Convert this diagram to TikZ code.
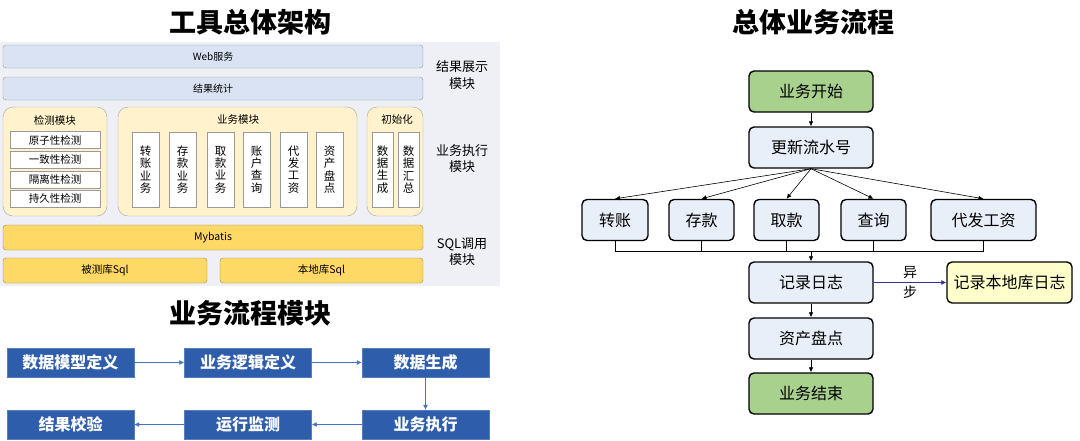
\documentclass[tikz,border=0pt]{standalone}
\usepackage{fontspec}
\setmainfont{Noto Sans CJK SC}
\usetikzlibrary{arrows.meta}

\definecolor{panelbg}{HTML}{EEF0F6}
\definecolor{barblue}{HTML}{DAE3F3}
\definecolor{modyellow}{HTML}{FFF2CC}
\definecolor{sqlyellow}{HTML}{FFD966}
\definecolor{stepblue}{HTML}{2E5DAC}
\definecolor{linkblue}{HTML}{4472C4}
\definecolor{startgreen}{HTML}{A9D18E}
\definecolor{flowblue}{HTML}{E9EFF8}
\definecolor{notebox}{HTML}{FFFFCC}
\definecolor{asyncnavy}{HTML}{2E3192}

\begin{document}
\begin{tikzpicture}[x=1pt,y=-1pt,
  bar/.style={draw=gray!80,fill=barblue,rounded corners=3pt,inner sep=0pt,
    minimum width=420pt,minimum height=23pt,font=\fontsize{10}{12}\selectfont},
  module/.style={draw=gray!70,fill=modyellow,rounded corners=10pt,inner sep=0pt,
    minimum height=109pt},
  checkbox/.style={draw=gray!80,fill=white,inner sep=0pt,minimum width=90pt,
    minimum height=17pt,font=\fontsize{10.5}{12}\selectfont},
  vbox/.style={draw=gray!80,fill=white,inner sep=0pt,minimum height=75pt,
    align=center,font=\fontsize{11.5}{12.3}\selectfont},
  sqlbar/.style={draw=gray!70!orange,fill=sqlyellow,rounded corners=3pt,
    inner sep=0pt,minimum height=25pt,font=\fontsize{10.5}{12}\selectfont},
  sidelabel/.style={align=center,font=\fontsize{13}{16.5}\selectfont},
  title/.style={font=\fontsize{27}{30}\selectfont\bfseries},
  stepbox/.style={fill=stepblue,draw=stepblue!80!white,text=white,inner sep=0pt,
    minimum width=127pt,minimum height=29pt,font=\fontsize{16}{18}\selectfont\bfseries},
  steplink/.style={linkblue,line width=0.8pt,-{Latex[length=5pt,width=5pt]}},
  flow/.style={draw=black,line width=1.4pt,fill=flowblue,rounded corners=5pt,
    inner sep=0pt,minimum height=41pt,font=\fontsize{16}{18}\selectfont},
  flowlink/.style={black,line width=0.6pt,-{Latex[length=5pt,width=4.5pt]}}]

\useasboundingbox (0,0) rectangle (1080,440);

% tool architecture
\fill[panelbg] (0,42) rectangle (500,286);
\node[title] (archtitle) at (250,22) {工具总体架构};

\node[bar] (web) at (213,56.5) {Web服务};
\node[bar] (stat) at (213,88.5) {结果统计};

\node[module,minimum width=104pt] (chk) at (55,161.5) {};
\node[module,minimum width=239pt] (biz) at (237.5,161.5) {};
\node[module,minimum width=56pt] (init) at (395,161.5) {};
\node[font=\fontsize{10.5}{12}\selectfont] (chktitle) at (55,120) {检测模块};
\node[font=\fontsize{10.5}{12}\selectfont] (biztitle) at (238,120) {业务模块};
\node[font=\fontsize{10.5}{12}\selectfont] (inittitle) at (397,120) {初始化};

\foreach \t/\y/\n in {原子性检测/140/c1,一致性检测/159.5/c2,隔离性检测/179.5/c3,持久性检测/198.5/c4}
  \node[checkbox] (\n) at (55,\y) {\t};

\foreach \t/\x/\n in {转\\账\\业\\务/145.5/b1,存\\款\\业\\务/182.5/b2,取\\款\\业\\务/220.5/b3,
    账\\户\\查\\询/256.5/b4,代\\发\\工\\资/293.5/b5,资\\产\\盘\\点/329.5/b6}
  \node[vbox,minimum width=27pt] (\n) at (\x,169.5) {\t};

\node[vbox,minimum width=21pt] (i1) at (382.5,169.5) {数\\据\\生\\成};
\node[vbox,minimum width=21pt] (i2) at (408.5,169.5) {数\\据\\汇\\总};

\node[sqlbar,minimum width=420pt] (mybatis) at (213,237.5) {Mybatis};
\node[sqlbar,minimum width=204pt] (testsql) at (105,270.5) {被测库Sql};
\node[sqlbar,minimum width=203pt] (localsql) at (321.5,270.5) {本地库Sql};

\node[sidelabel] (showlbl) at (462,75) {结果展示\\模块};
\node[sidelabel] (execlbl) at (462,158.5) {业务执行\\模块};
\node[sidelabel] (sqllbl) at (462,251.5) {SQL调用\\模块};

% process module
\node[title] (proctitle) at (250,313) {业务流程模块};

\node[stepbox] (model) at (70.5,362.5) {数据模型定义};
\node[stepbox] (logic) at (248,362.5) {业务逻辑定义};
\node[stepbox] (gen) at (425.5,362.5) {数据生成};
\node[stepbox] (run) at (425.5,424.5) {业务执行};
\node[stepbox] (watch) at (248,424.5) {运行监测};
\node[stepbox] (verify) at (70.5,424.5) {结果校验};

\draw[steplink] (model) -- (logic);
\draw[steplink] (logic) -- (gen);
\draw[steplink] (gen) -- (run);
\draw[steplink] (run) -- (watch);
\draw[steplink] (watch) -- (verify);

% overall flow
\node[title] (flowtitle) at (813,22) {总体业务流程};

\node[flow,fill=startgreen,minimum width=124pt] (start) at (811,91.5) {业务开始};
\node[flow,minimum width=124pt] (serial) at (811,147.5) {更新流水号};

\node[flow,minimum width=66pt] (transfer) at (615,220) {转账};
\node[flow,minimum width=65pt] (deposit) at (701.5,220) {存款};
\node[flow,minimum width=65pt] (withdraw) at (786.5,220) {取款};
\node[flow,minimum width=65pt] (query) at (873.5,220) {查询};
\node[flow,minimum width=105pt] (salary) at (983.5,220) {代发工资};

\node[flow,minimum width=124pt] (log) at (811,282.5) {记录日志};
\node[flow,minimum width=124pt] (check) at (811,338.5) {资产盘点};
\node[flow,fill=startgreen,minimum width=124pt] (finish) at (811,393.5) {业务结束};
\node[flow,fill=notebox,minimum width=125pt] (locallog) at (1009.5,282.5) {记录本地库日志};

\coordinate (bus) at (811,251);

\draw[flowlink] (start) -- (serial);
\foreach \n in {transfer,deposit,withdraw,query,salary}
  \draw[flowlink] (serial.south) -- (\n.north);
\foreach \n in {transfer,deposit,withdraw,query,salary}
  \draw[line width=0.6pt] (\n.south) -- (\n.south |- bus);
\draw[line width=0.6pt] (transfer.south |- bus) -- (salary.south |- bus);
\draw[flowlink] (bus) -- (log);
\draw[flowlink] (log) -- (check);
\draw[flowlink] (check) -- (finish);
\draw[asyncnavy,line width=0.8pt,-{Latex[length=5pt,width=5pt]}] (log) -- (locallog)
  node[midway,black,align=center,font=\fontsize{14}{20}\selectfont] (async) {异\\步};

\end{tikzpicture}
\end{document}
